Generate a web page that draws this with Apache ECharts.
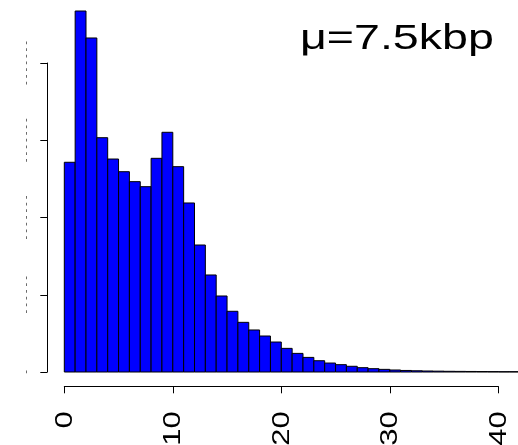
<!DOCTYPE html>
<html>
<head>
<meta charset="utf-8">
<script src="https://cdn.jsdelivr.net/npm/echarts@6/dist/echarts.min.js"></script>
<style>html,body{margin:0;padding:0;background:#fff}#c{width:518px;height:445px}</style>
</head>
<body>
<div id="c"></div>
<script>
// histogram bins: start of each bin (width 1) and its height (in y tick units)
const binStarts = [0,1,2,3,4,5,6,7,8,9,10,11,12,13,14,15,16,17,18,19,20,21,22,23,24,25,26,27,28,29,30,31,32,33,34,35,36,37,38,39,40,41];
const binHeights = [2.715,4.673,4.324,3.033,2.757,2.593,2.464,2.399,2.766,3.103,2.658,2.188,1.644,1.256,0.984,0.786,0.643,0.544,0.466,0.388,0.306,0.241,0.189,0.146,0.116,0.095,0.074,0.056,0.043,0.034,0.026,0.020,0.016,0.013,0.011,0.009,0.008,0.007,0.006,0.005,0.004,0.004];
const binWidth = 1;
const xTicks = [0,10,20,30,40];
const xTickLabels = ['0','10','20','30','40'];
const yTicks = [0,1,2,3,4];
const yTickLabels = ['-', '- - - - - -', '- - - - - - -', '- - - - - - -', '- - - - - - -'];
const titleText = 'μ=7.5kbp';

const chart = echarts.init(document.getElementById('c'), null, {renderer: 'canvas'});
const font = 'Liberation Sans, Arial, Helvetica, sans-serif';
const option = {
  animation: false,
  backgroundColor: '#ffffff',
  grid: {left: 64.3, right: 19.7, top: 63, bottom: 73, containLabel: false},
  xAxis: {
    type: 'value', min: xTicks[0], max: xTicks[xTicks.length - 1], interval: 10,
    offset: 14.3,
    axisLine: {show: true, onZero: false, lineStyle: {color: '#000', width: 1}},
    axisTick: {show: true, length: 7, lineStyle: {color: '#000', width: 1}},
    splitLine: {show: false},
    axisLabel: {show: false}
  },
  yAxis: {
    type: 'value', min: yTicks[0], max: yTicks[yTicks.length - 1], interval: 1,
    offset: 17,
    axisLine: {show: true, onZero: false, lineStyle: {color: '#000', width: 1}},
    axisTick: {show: true, length: 7, lineStyle: {color: '#000', width: 1}},
    splitLine: {show: false},
    axisLabel: {
      rotate: 90, margin: 16, fontSize: 11, color: '#555', fontFamily: font,
      formatter: function (v) { const i = yTicks.indexOf(v); return i >= 0 ? yTickLabels[i] : ''; }
    }
  },
  series: [{
    type: 'custom',
    clip: false,
    data: binStarts.map((s, i) => [s, s + binWidth, binHeights[i]]),
    encode: {x: [0, 1], y: 2},
    renderItem: function (params, api) {
      const p0 = api.coord([api.value(0), 0]);
      const p1 = api.coord([api.value(1), api.value(2)]);
      return {
        type: 'rect',
        shape: {x: p0[0], y: p1[1], width: p1[0] - p0[0], height: p0[1] - p1[1]},
        style: {fill: '#0000ff', stroke: '#000', lineWidth: 1}
      };
    }
  }]
};
chart.setOption(option);

// x tick labels: rotated, stretched along reading direction; positioned from the axis scale
const axisY = chart.convertToPixel({yAxisIndex: 0}, 0) + 14.3;
const gfx = xTicks.map((v, i) => ({
  type: 'text',
  x: chart.convertToPixel({xAxisIndex: 0}, v) + 1,
  y: axisY + 25,
  rotation: Math.PI / 2,
  scaleX: 1.35,
  style: {text: xTickLabels[i], font: '23px ' + font, fill: '#000', align: 'right', verticalAlign: 'middle'}
}));
gfx.push({
  type: 'text', left: 300, top: 22, scaleX: 1.33,
  style: {text: titleText, fill: '#000', font: '35px ' + font}
});
chart.setOption({graphic: gfx});
</script>
</body>
</html>
